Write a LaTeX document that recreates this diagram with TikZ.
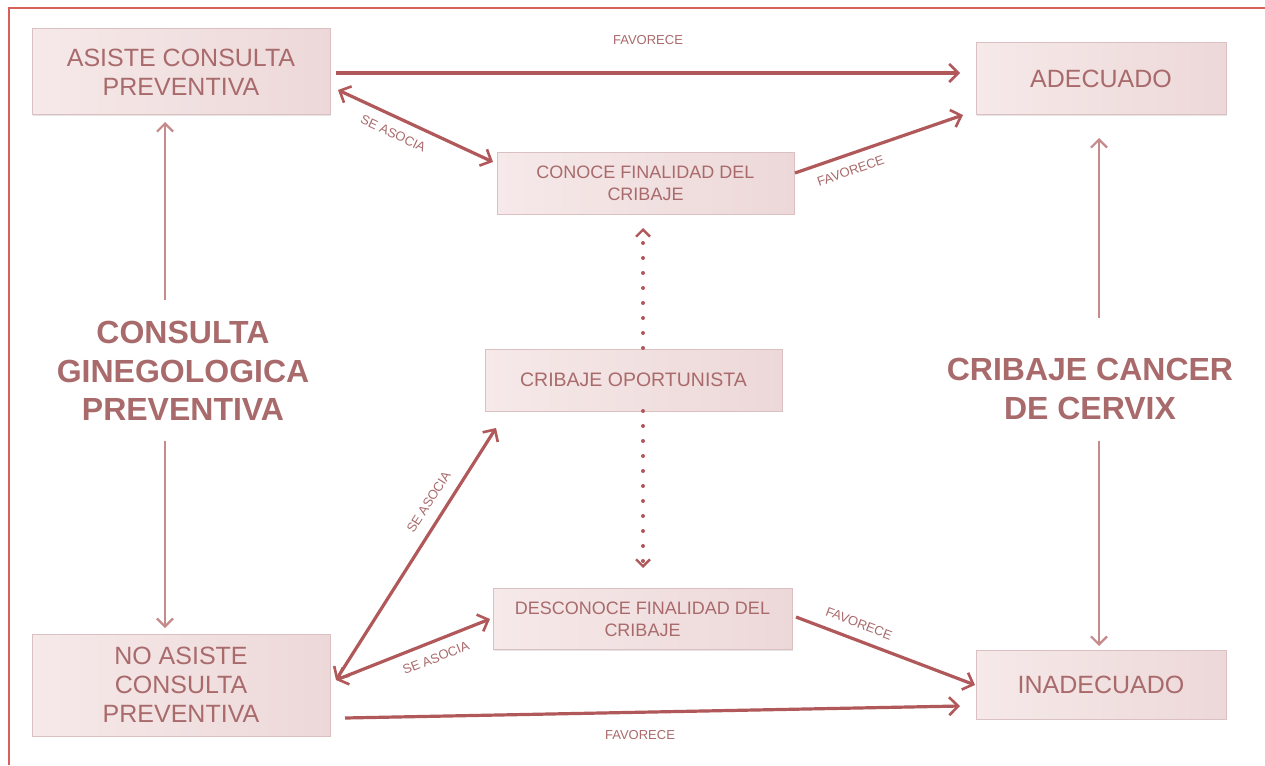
\documentclass[tikz,border=0pt]{standalone}
\usepackage{fontspec}
\setmainfont{Liberation Sans}
\usetikzlibrary{arrows.meta,shadows}
\definecolor{frame}{HTML}{D9605A}
\definecolor{arr}{HTML}{B0585A}
\definecolor{arrlight}{HTML}{C68A8A}
\definecolor{txt}{HTML}{A96A6C}
\definecolor{boxl}{HTML}{F6E9E9}
\definecolor{boxr}{HTML}{EDD8D9}
\definecolor{boxd}{HTML}{DAC0C1}
\tikzset{
  box/.style={draw=boxd, line width=1pt, left color=boxl, right color=boxr,
    text=txt, align=center, inner sep=0pt, font=\fontsize{25}{29}\selectfont,
    drop shadow={opacity=0.2, shadow xshift=1.2pt, shadow yshift=-1.2pt}},
  smallbox/.style={box, font=\fontsize{18}{22}\selectfont},
  big/.style={text=txt, align=center, font=\bfseries\fontsize{32}{38.5}\selectfont},
  lbl/.style={text=txt, font=\fontsize{13}{15}\selectfont, inner sep=2pt},
  tip/.style={-{Straight Barb[length=9pt,width=18pt,line width=2.6pt]}},
  dtip/.style={{Straight Barb[length=9pt,width=18pt,line width=2.6pt]}-{Straight Barb[length=9pt,width=18pt,line width=2.6pt]}},
  mainarr/.style={draw=arr, line width=3.2pt},
  sidearr/.style={draw=arrlight, line width=2.4pt, -{Straight Barb[length=8pt,width=16pt,line width=2.2pt]}},
  dotarr/.style={draw=arr, line width=4pt, line cap=round, dash pattern=on 0pt off 15pt,
    -{Straight Barb[length=7pt,width=14pt,line width=2.4pt]}},
}
\begin{document}
\begin{tikzpicture}[x=1pt,y=-1pt]
\useasboundingbox (0,0) rectangle (1265,765);
\fill[white] (0,0) rectangle (1265,765);
% frame
\draw[frame, line width=1.6pt] (9,765) -- (9,8) -- (1265,8);

% boxes
\node[box, minimum width=298pt, minimum height=86pt] (asiste) at (181,72) {ASISTE CONSULTA\\PREVENTIVA};
\node[box, minimum width=250pt, minimum height=72pt] (adec) at (1101,79) {ADECUADO};
\node[smallbox, minimum width=297pt, minimum height=62pt] (conoce) at (645.5,183) {CONOCE FINALIDAD DEL\\CRIBAJE};
\node[box, font=\fontsize{19.5}{22}\selectfont, minimum width=297pt, minimum height=62pt] (crib) at (633.5,380) {CRIBAJE OPORTUNISTA};
\node[smallbox, minimum width=299pt, minimum height=61pt] (desc) at (642.5,619) {DESCONOCE FINALIDAD DEL\\CRIBAJE};
\node[box, minimum width=298pt, minimum height=102pt] (noas) at (181,685) {NO ASISTE\\CONSULTA\\PREVENTIVA};
\node[box, minimum width=250pt, minimum height=69pt] (inad) at (1101,684.5) {INADECUADO};

% big labels
\node[big] (cgp) at (183,371) {CONSULTA\\GINEGOLOGICA\\PREVENTIVA};
\node[big] (ccc) at (1090,389) {CRIBAJE CANCER\\DE CERVIX};

% coordinates for arrow ends
\coordinate (a1s) at (336,73);
\coordinate (a1e) at (960,73);
\coordinate (a2s) at (338,90);
\coordinate (a2e) at (493,162);
\coordinate (a3s) at (795,173);
\coordinate (a3e) at (963,115);
\coordinate (v1s) at (165,300);
\coordinate (v1e) at (165,122);
\coordinate (v2s) at (165,441);
\coordinate (v2e) at (165,628);
\coordinate (r1s) at (1099,318);
\coordinate (r1e) at (1099,138);
\coordinate (r2s) at (1099,441);
\coordinate (r2e) at (1099,646);
\coordinate (d1s) at (643,348);
\coordinate (d1e) at (643,228);
\coordinate (d2s) at (643,411);
\coordinate (d2e) at (643,568);
\coordinate (b1s) at (336,680);
\coordinate (b1e) at (496,428);
\coordinate (b2e) at (490,619);
\coordinate (b3s) at (796,617);
\coordinate (b3e) at (975,685);
\coordinate (b4s) at (345,718);
\coordinate (b4e) at (960,706);

% main arrows
\draw[mainarr, tip] (a1s) -- (a1e);
\node[lbl] (l1) at (648,40) {FAVORECE};
\draw[mainarr, dtip] (a2s) -- node[lbl, sloped, below=8pt, pos=0.4] (l2) {SE ASOCIA} (a2e);
\draw[mainarr, tip] (a3s) -- node[lbl, sloped, below=8pt, pos=0.3] (l3) {FAVORECE} (a3e);
\draw[mainarr, dtip] (b1s) -- node[lbl, sloped, above=9pt, pos=0.67] (l4) {SE ASOCIA} (b1e);
\draw[mainarr, dtip] (b1s) -- node[lbl, sloped, below=8pt, pos=0.61] (l5) {SE ASOCIA} (b2e);
\draw[mainarr, tip] (b3s) -- node[lbl, sloped, above=8pt, pos=0.32] (l6) {FAVORECE} (b3e);
\draw[mainarr, tip] (b4s) -- (b4e);
\node[lbl] (l7) at (640,735) {FAVORECE};

% side arrows
\draw[sidearr] (v1s) -- (v1e);
\draw[sidearr] (v2s) -- (v2e);
\draw[sidearr] (r1s) -- (r1e);
\draw[sidearr] (r2s) -- (r2e);

% dotted arrows
\draw[dotarr] (d1s) -- (d1e);
\draw[dotarr] (d2s) -- (d2e);
\end{tikzpicture}
\end{document}
